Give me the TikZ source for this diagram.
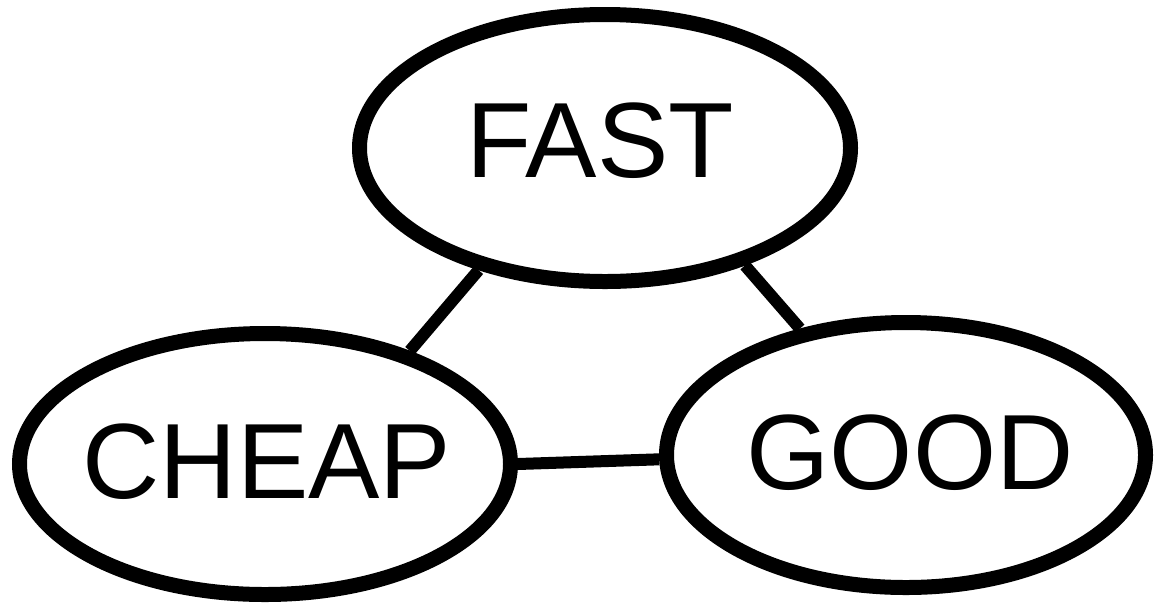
\documentclass[tikz,border=0pt]{standalone}
\usepackage{fontspec}
\setmainfont{Liberation Sans}
\usetikzlibrary{shapes.geometric}
\begin{document}
\begin{tikzpicture}[x=1pt,y=-1pt,
  oval/.style={draw=black,ellipse,line width=15pt,inner sep=0pt},
  word/.style={inner sep=0pt,font=\fontsize{107}{107}\selectfont},
  link/.style={draw=black,line width=12pt}]
\useasboundingbox (0,0) rectangle (1155,606);
\node[oval,minimum width=491pt,minimum height=267pt] (fast) at (605,148) {};
\node[oval,minimum width=491pt,minimum height=261pt] (cheap) at (265,464) {};
\node[oval,minimum width=479pt,minimum height=265pt] (good) at (906,455) {};
\node[word] (fasttext) at (600,141) {FAST};
\node[word] (cheaptext) at (267,462) {CHEAP};
\node[word] (goodtext) at (910,453) {GOOD};
\draw[link] (fast.224) -- (cheap.38);
\draw[link] (fast.320) -- (good.130);
\draw[link] (cheap.0.4) -- (good.181.5);
\end{tikzpicture}
\end{document}
